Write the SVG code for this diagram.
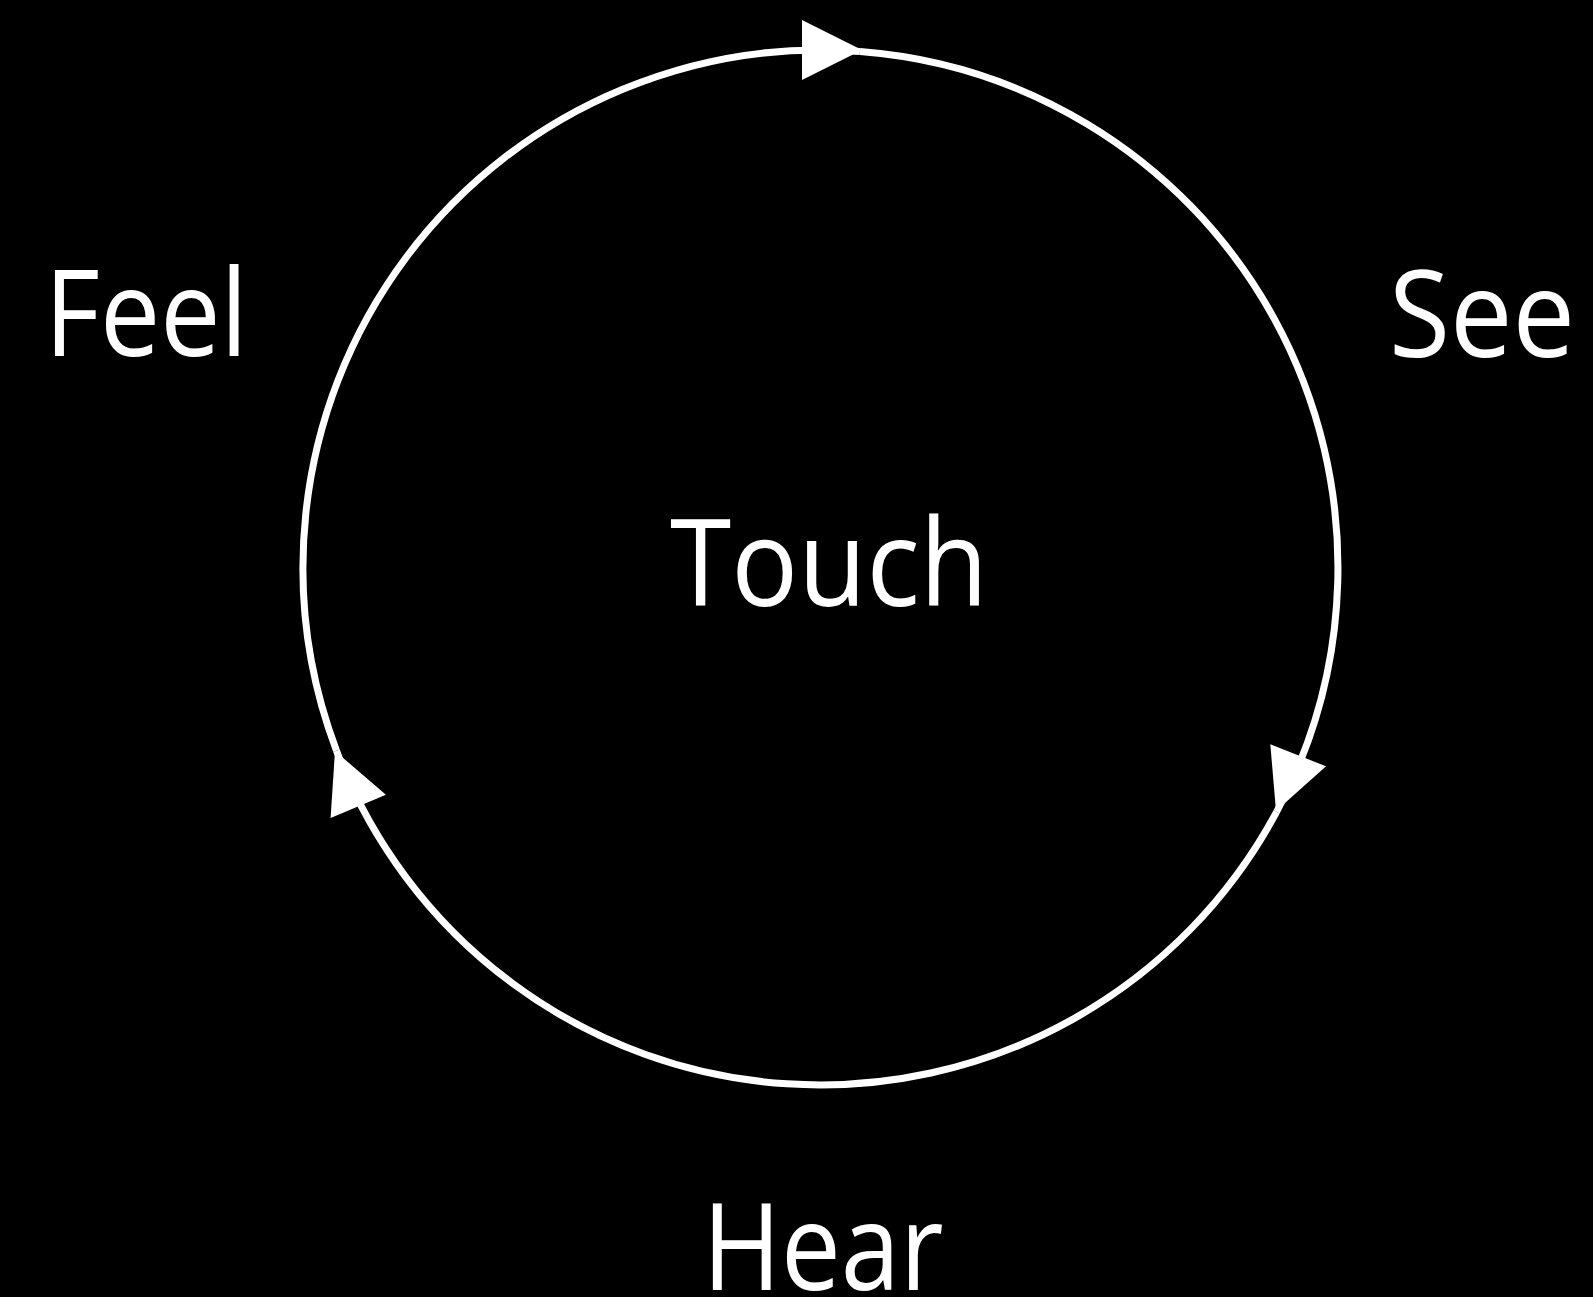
<svg xmlns="http://www.w3.org/2000/svg" xmlns:xlink="http://www.w3.org/1999/xlink" width="1593" height="1297" viewBox="0 0 1593 1297">
  <style>
    .bg { fill: #000000; }
    .label { font-family: "Open Sans", "Liberation Sans", sans-serif; font-size: 120px; fill: #ffffff; text-anchor: middle; }
    .edge { fill: none; stroke: #ffffff; stroke-width: 7; }
    .head { fill: #ffffff; stroke: none; }
  </style>
  <defs>
    <path id="arrowhead" class="head" d="M0,0 L-60,-30 L-60,30 Z"/>
  </defs>
  <rect class="bg" x="0" y="0" width="1593" height="1297"/>
  <g id="connectors">
    <path class="edge" d="M336.5,750.7 A517.5,517.5 0 0 1 860,51.5"/>
    <path class="edge" d="M860,51.5 A517.5,517.5 0 0 1 1276.6,811.9"/>
    <path class="edge" d="M1276.6,811.9 A517.5,517.5 0 0 1 336.5,750.7"/>
    <use xlink:href="#arrowhead" href="#arrowhead" transform="translate(862,50)"/>
    <use xlink:href="#arrowhead" href="#arrowhead" transform="translate(1276,811) rotate(111.7)"/>
    <use xlink:href="#arrowhead" href="#arrowhead" transform="translate(335,751) rotate(247.2)"/>
  </g>
  <g id="node-touch"><text class="label" x="829" y="606" textLength="318" lengthAdjust="spacingAndGlyphs">Touch</text></g>
  <g id="node-feel"><text class="label" x="146" y="356" textLength="203" lengthAdjust="spacingAndGlyphs">Feel</text></g>
  <g id="node-see"><text class="label" x="1482" y="357" textLength="186" lengthAdjust="spacingAndGlyphs">See</text></g>
  <g id="node-hear"><text class="label" x="823" y="1290" textLength="241" lengthAdjust="spacingAndGlyphs">Hear</text></g>
</svg>
